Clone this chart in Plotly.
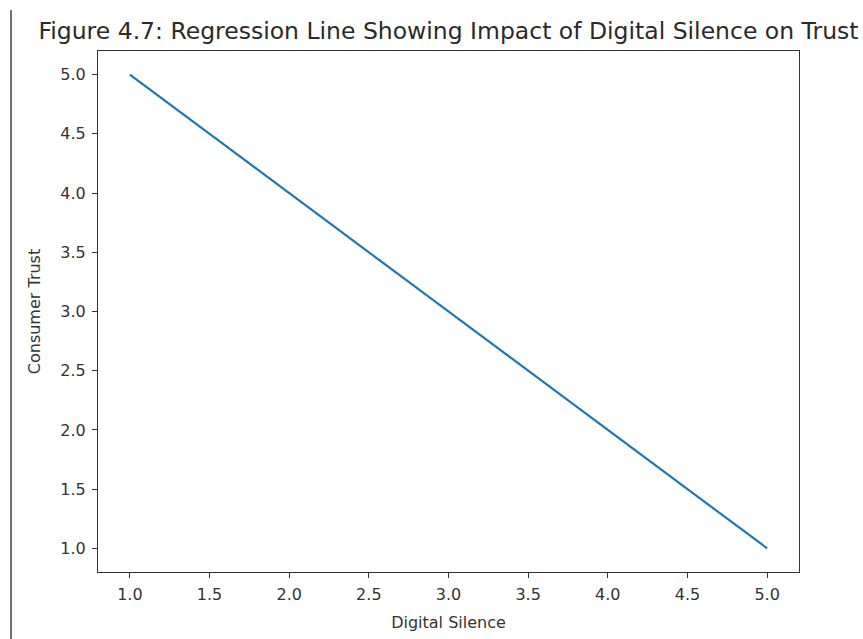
import plotly.graph_objects as go

digital_silence = [1, 2, 3, 4, 5]
consumer_trust = [5, 4, 3, 2, 1]
x_ticks = [1.0, 1.5, 2.0, 2.5, 3.0, 3.5, 4.0, 4.5, 5.0]
y_ticks = [1.0, 1.5, 2.0, 2.5, 3.0, 3.5, 4.0, 4.5, 5.0]

W, H = 863, 639
L, R, T, B = 98, 64, 51, 67
PH = H - T - B
PW = W - L - R

fig = go.Figure()
fig.add_trace(go.Scatter(x=digital_silence, y=consumer_trust, mode="lines",
                         line=dict(color="#1f77b4", width=2.2), showlegend=False))

axis_common = dict(showgrid=False, zeroline=False, showline=True, mirror=True,
                   linecolor="#333333", linewidth=1.2, ticks="outside", ticklen=5,
                   tickwidth=1.2, tickcolor="#333333", ticklabelstandoff=3,
                   tickfont=dict(family="DejaVu Sans", size=16, color="#333333"))

fig.update_layout(
    width=W, height=H,
    margin=dict(l=L, r=R, t=T, b=B),
    paper_bgcolor="white", plot_bgcolor="white",
    title=dict(text="Figure 4.7: Regression Line Showing Impact of Digital Silence on Trust",
               x=(L + (W - R)) / 2 / W, xanchor="center",
               y=1 - 31 / H, yanchor="middle", yref="container",
               font=dict(family="DejaVu Sans", size=23.5, color="#2a2a2a")),
    xaxis=dict(range=[0.8, 5.2], tickvals=x_ticks,
               ticktext=[f"{v:.1f}" for v in x_ticks],
               title=dict(text="Digital Silence", standoff=13,
                          font=dict(family="DejaVu Sans", size=16, color="#333333")),
               **axis_common),
    yaxis=dict(range=[0.8, 5.2], tickvals=y_ticks,
               ticktext=[f"{v:.1f}" for v in y_ticks],
               title=dict(text="Consumer Trust", standoff=15,
                          font=dict(family="DejaVu Sans", size=16, color="#333333")),
               **axis_common),
)

fig.add_shape(type="line", xref="paper", yref="paper",
              x0=(11 - L) / PW, x1=(11 - L) / PW,
              y0=-B / PH, y1=1 + (T - 10) / PH,
              line=dict(color="#444444", width=1.5))

fig.write_html("out.html")
